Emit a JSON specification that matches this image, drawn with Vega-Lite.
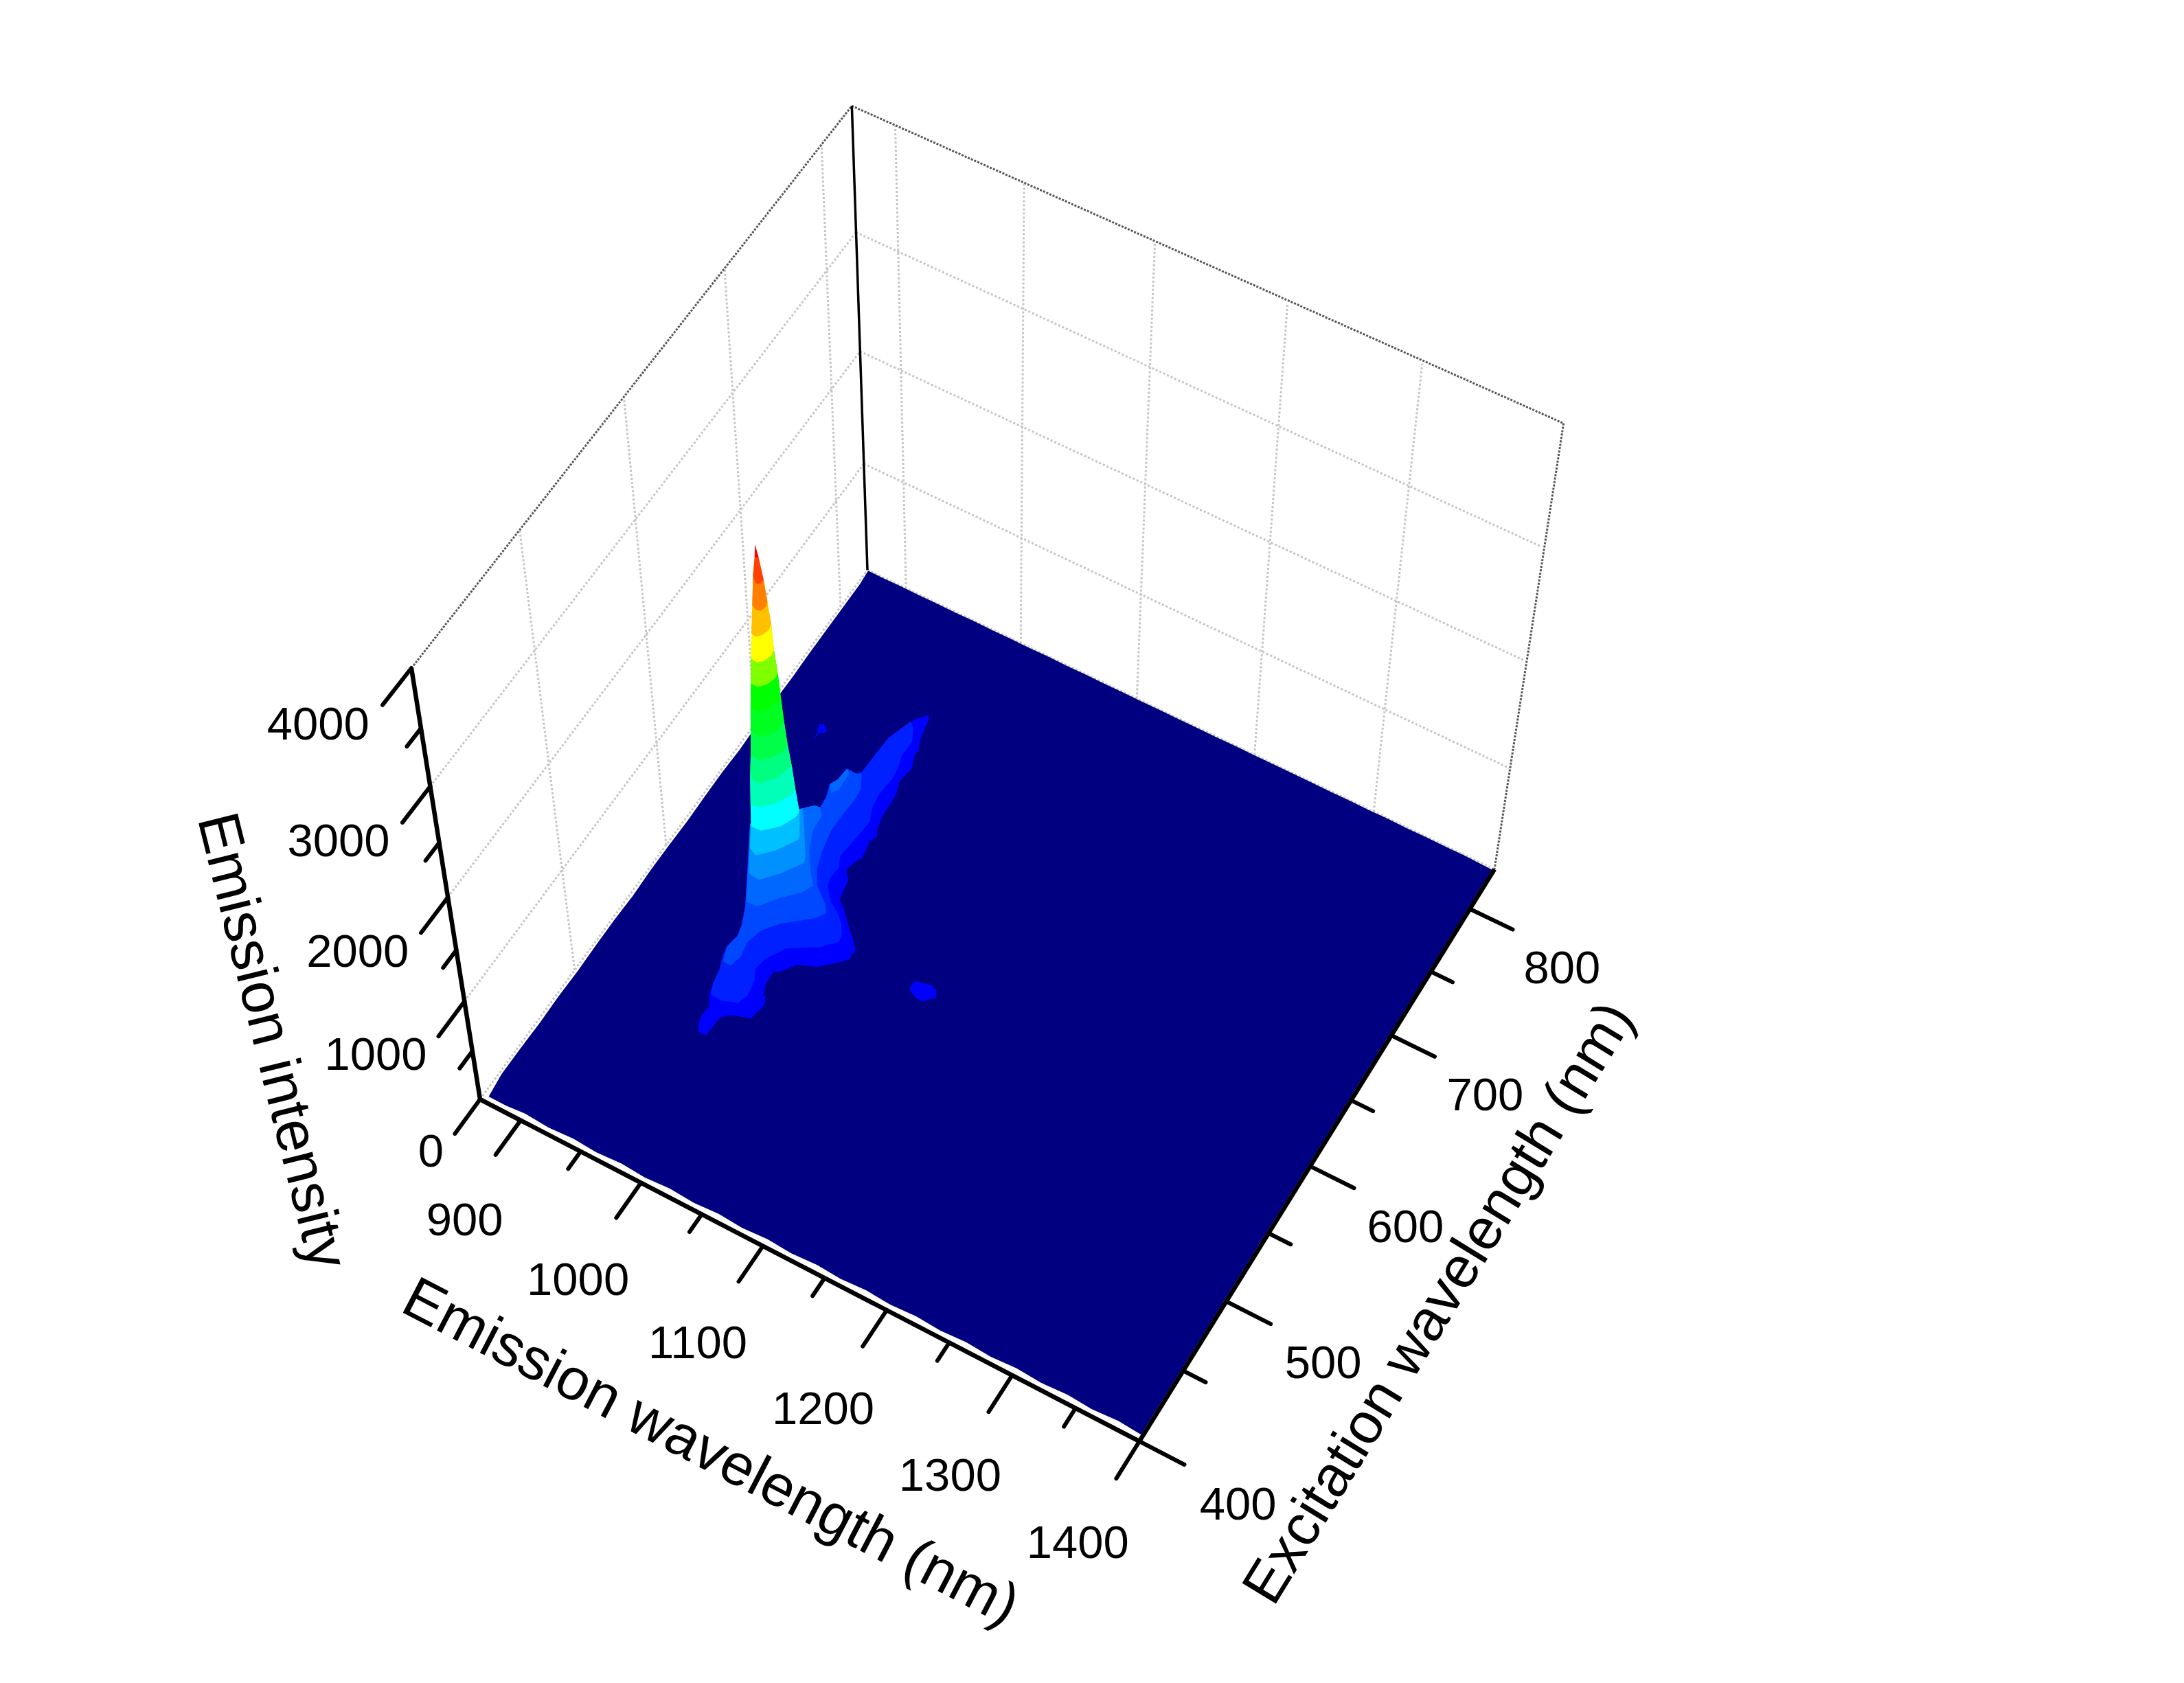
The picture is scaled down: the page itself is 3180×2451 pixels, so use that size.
{"$schema":"https://vega.github.io/schema/vega-lite/v6.json","width":3180,"height":2451,"padding":0,"autosize":{"type":"fit","contains":"padding"},"background":"white","config":{"view":{"stroke":null},"text":{"font":"Liberation Sans"}},
"data":{"values":[
{"set":"grid","em":866,"ex":500,"I":0,"em2":866,"ex2":500,"I2":4000},{"set":"grid","em":866,"ex":600,"I":0,"em2":866,"ex2":600,"I2":4000},{"set":"grid","em":866,"ex":700,"I":0,"em2":866,"ex2":700,"I2":4000},{"set":"grid","em":866,"ex":800,"I":0,"em2":866,"ex2":800,"I2":4000},
{"set":"grid","em":900,"ex":832,"I":0,"em2":900,"ex2":832,"I2":4000},{"set":"grid","em":1000,"ex":832,"I":0,"em2":1000,"ex2":832,"I2":4000},{"set":"grid","em":1100,"ex":832,"I":0,"em2":1100,"ex2":832,"I2":4000},{"set":"grid","em":1200,"ex":832,"I":0,"em2":1200,"ex2":832,"I2":4000},{"set":"grid","em":1300,"ex":832,"I":0,"em2":1300,"ex2":832,"I2":4000},
{"set":"grid","em":866,"ex":400,"I":1000,"em2":866,"ex2":832,"I2":1000},{"set":"grid","em":866,"ex":400,"I":2000,"em2":866,"ex2":832,"I2":2000},{"set":"grid","em":866,"ex":400,"I":3000,"em2":866,"ex2":832,"I2":3000},
{"set":"grid","em":866,"ex":832,"I":1000,"em2":1400,"ex2":832,"I2":1000},{"set":"grid","em":866,"ex":832,"I":2000,"em2":1400,"ex2":832,"I2":2000},{"set":"grid","em":866,"ex":832,"I":3000,"em2":1400,"ex2":832,"I2":3000},
{"set":"grid","em":866,"ex":400,"I":0,"em2":866,"ex2":832,"I2":0},{"set":"grid","em":866,"ex":832,"I":0,"em2":1400,"ex2":832,"I2":0},
{"set":"frame","em":866,"ex":400,"I":4000,"em2":866,"ex2":832,"I2":4000},{"set":"frame","em":866,"ex":832,"I":4000,"em2":1403,"ex2":832,"I2":4030},{"set":"frame","em":1403,"ex":832,"I":4030,"em2":1400,"ex2":832,"I2":0},
{"set":"back","em":866,"ex":832,"I":0,"em2":866,"ex2":832,"I2":4000},
{"set":"axis","em":866,"ex":400,"I":0,"em2":866,"ex2":400,"I2":4000},{"set":"axis","em":866,"ex":400,"I":0,"em2":1400,"ex2":400,"I2":0},{"set":"axis","em":1400,"ex":400,"I":0,"em2":1400,"ex2":832,"I2":0},
{"set":"tick","em":900,"ex":400,"I":0,"em2":900,"ex2":374,"I2":0},{"set":"tick","em":950,"ex":400,"I":0,"em2":950,"ex2":387,"I2":0},{"set":"tick","em":1000,"ex":400,"I":0,"em2":1000,"ex2":374,"I2":0},{"set":"tick","em":1050,"ex":400,"I":0,"em2":1050,"ex2":387,"I2":0},{"set":"tick","em":1100,"ex":400,"I":0,"em2":1100,"ex2":374,"I2":0},{"set":"tick","em":1150,"ex":400,"I":0,"em2":1150,"ex2":387,"I2":0},{"set":"tick","em":1200,"ex":400,"I":0,"em2":1200,"ex2":374,"I2":0},{"set":"tick","em":1250,"ex":400,"I":0,"em2":1250,"ex2":387,"I2":0},{"set":"tick","em":1300,"ex":400,"I":0,"em2":1300,"ex2":374,"I2":0},{"set":"tick","em":1350,"ex":400,"I":0,"em2":1350,"ex2":387,"I2":0},{"set":"tick","em":1400,"ex":400,"I":0,"em2":1400,"ex2":374,"I2":0},
{"set":"tick","em":1400,"ex":400,"I":0,"em2":1435,"ex2":400,"I2":0},{"set":"tick","em":1400,"ex":450,"I":0,"em2":1417.6,"ex2":450,"I2":0},{"set":"tick","em":1400,"ex":500,"I":0,"em2":1435,"ex2":500,"I2":0},{"set":"tick","em":1400,"ex":550,"I":0,"em2":1417.6,"ex2":550,"I2":0},{"set":"tick","em":1400,"ex":600,"I":0,"em2":1435,"ex2":600,"I2":0},{"set":"tick","em":1400,"ex":650,"I":0,"em2":1417.6,"ex2":650,"I2":0},{"set":"tick","em":1400,"ex":700,"I":0,"em2":1435,"ex2":700,"I2":0},{"set":"tick","em":1400,"ex":750,"I":0,"em2":1417.6,"ex2":750,"I2":0},{"set":"tick","em":1400,"ex":800,"I":0,"em2":1435,"ex2":800,"I2":0},
{"set":"tick","em":866,"ex":400,"I":0,"em2":866,"ex2":374,"I2":0},{"set":"tick","em":866,"ex":400,"I":500,"em2":866,"ex2":387,"I2":500},{"set":"tick","em":866,"ex":400,"I":1000,"em2":866,"ex2":374,"I2":1000},{"set":"tick","em":866,"ex":400,"I":1500,"em2":866,"ex2":387,"I2":1500},{"set":"tick","em":866,"ex":400,"I":2000,"em2":866,"ex2":374,"I2":2000},{"set":"tick","em":866,"ex":400,"I":2500,"em2":866,"ex2":387,"I2":2500},{"set":"tick","em":866,"ex":400,"I":3000,"em2":866,"ex2":374,"I2":3000},{"set":"tick","em":866,"ex":400,"I":3500,"em2":866,"ex2":387,"I2":3500},{"set":"tick","em":866,"ex":400,"I":4000,"em2":866,"ex2":374,"I2":4000},
{"set":"tickc","em":909,"ex":331,"I":0,"label":"900"},{"set":"tickc","em":1002.4,"ex":331,"I":0,"label":"1000"},{"set":"tickc","em":1099.8,"ex":331,"I":0,"label":"1100"},{"set":"tickc","em":1200.2,"ex":331,"I":0,"label":"1200"},{"set":"tickc","em":1300.6,"ex":331,"I":0,"label":"1300"},{"set":"tickc","em":1400,"ex":331,"I":0,"label":"1400"},
{"set":"tickc","em":1480,"ex":394.9,"I":0,"label":"400"},{"set":"tickc","em":1480,"ex":494.2,"I":0,"label":"500"},{"set":"tickc","em":1480,"ex":593.5,"I":0,"label":"600"},{"set":"tickc","em":1480,"ex":692.9,"I":0,"label":"700"},{"set":"tickc","em":1480,"ex":792.2,"I":0,"label":"800"},
{"set":"tickr","em":866,"ex":361,"I":0,"label":"0"},{"set":"tickr","em":866,"ex":361,"I":1000,"label":"1000"},{"set":"tickr","em":866,"ex":361,"I":2000,"label":"2000"},{"set":"tickr","em":866,"ex":361,"I":3000,"label":"3000"},{"set":"tickr","em":866,"ex":361,"I":4000,"label":"4000"},
{"set":"titleEm","em":1151.9,"ex":277.4,"I":0,"label":"Emission wavelength (nm)"},{"set":"titleEx","em":1526.8,"ex":559,"I":0,"label":"Excitation wavelength (nm)"},{"set":"titleI","em":866,"ex":252,"I":2692,"label":"Emission intensity"},
{"set":"s","poly":"F","level":0,"n":1,"em":870,"ex":404,"I":0},{"set":"s","poly":"F","level":0,"n":2,"em":868,"ex":420,"I":3},{"set":"s","poly":"F","level":0,"n":3,"em":868,"ex":440,"I":1},{"set":"s","poly":"F","level":0,"n":4,"em":868.5,"ex":460,"I":4},{"set":"s","poly":"F","level":0,"n":5,"em":868,"ex":480,"I":2},{"set":"s","poly":"F","level":0,"n":6,"em":868.5,"ex":500,"I":4},{"set":"s","poly":"F","level":0,"n":7,"em":868,"ex":520,"I":1},{"set":"s","poly":"F","level":0,"n":8,"em":868,"ex":540,"I":3},{"set":"s","poly":"F","level":0,"n":9,"em":868.5,"ex":560,"I":2},{"set":"s","poly":"F","level":0,"n":10,"em":868,"ex":580,"I":4},{"set":"s","poly":"F","level":0,"n":11,"em":868,"ex":600,"I":2},{"set":"s","poly":"F","level":0,"n":12,"em":868.5,"ex":620,"I":3},{"set":"s","poly":"F","level":0,"n":13,"em":868,"ex":640,"I":1},{"set":"s","poly":"F","level":0,"n":14,"em":868,"ex":660,"I":4},{"set":"s","poly":"F","level":0,"n":15,"em":868.5,"ex":680,"I":2},{"set":"s","poly":"F","level":0,"n":16,"em":868,"ex":700,"I":3},{"set":"s","poly":"F","level":0,"n":17,"em":868,"ex":720,"I":1},{"set":"s","poly":"F","level":0,"n":18,"em":868.5,"ex":740,"I":4},{"set":"s","poly":"F","level":0,"n":19,"em":868,"ex":760,"I":2},{"set":"s","poly":"F","level":0,"n":20,"em":868,"ex":780,"I":3},{"set":"s","poly":"F","level":0,"n":21,"em":868,"ex":800,"I":2},{"set":"s","poly":"F","level":0,"n":22,"em":868,"ex":820,"I":3},{"set":"s","poly":"F","level":0,"n":23,"em":867,"ex":831.5,"I":3},
{"set":"s","poly":"F","level":0,"n":24,"em":880,"ex":831.5,"I":1},{"set":"s","poly":"F","level":0,"n":25,"em":896,"ex":831.5,"I":4},{"set":"s","poly":"F","level":0,"n":26,"em":912,"ex":831.5,"I":1},{"set":"s","poly":"F","level":0,"n":27,"em":928,"ex":831.5,"I":3},{"set":"s","poly":"F","level":0,"n":28,"em":944,"ex":831.5,"I":1},{"set":"s","poly":"F","level":0,"n":29,"em":960,"ex":831.5,"I":4},{"set":"s","poly":"F","level":0,"n":30,"em":976,"ex":831.5,"I":2},{"set":"s","poly":"F","level":0,"n":31,"em":992,"ex":831.5,"I":3},{"set":"s","poly":"F","level":0,"n":32,"em":1008,"ex":831.5,"I":1},{"set":"s","poly":"F","level":0,"n":33,"em":1024,"ex":831.5,"I":4},{"set":"s","poly":"F","level":0,"n":34,"em":1040,"ex":831.5,"I":1},{"set":"s","poly":"F","level":0,"n":35,"em":1056,"ex":831.5,"I":3},{"set":"s","poly":"F","level":0,"n":36,"em":1072,"ex":831.5,"I":1},{"set":"s","poly":"F","level":0,"n":37,"em":1088,"ex":831.5,"I":3},{"set":"s","poly":"F","level":0,"n":38,"em":1104,"ex":831.5,"I":2},{"set":"s","poly":"F","level":0,"n":39,"em":1120,"ex":831.5,"I":4},{"set":"s","poly":"F","level":0,"n":40,"em":1136,"ex":831.5,"I":1},{"set":"s","poly":"F","level":0,"n":41,"em":1152,"ex":831.5,"I":3},{"set":"s","poly":"F","level":0,"n":42,"em":1168,"ex":831.5,"I":1},{"set":"s","poly":"F","level":0,"n":43,"em":1184,"ex":831.5,"I":4},{"set":"s","poly":"F","level":0,"n":44,"em":1200,"ex":831.5,"I":1},{"set":"s","poly":"F","level":0,"n":45,"em":1216,"ex":831.5,"I":3},{"set":"s","poly":"F","level":0,"n":46,"em":1232,"ex":831.5,"I":2},{"set":"s","poly":"F","level":0,"n":47,"em":1248,"ex":831.5,"I":3},{"set":"s","poly":"F","level":0,"n":48,"em":1264,"ex":831.5,"I":1},{"set":"s","poly":"F","level":0,"n":49,"em":1280,"ex":831.5,"I":3},{"set":"s","poly":"F","level":0,"n":50,"em":1296,"ex":831.5,"I":1},{"set":"s","poly":"F","level":0,"n":51,"em":1312,"ex":831.5,"I":4},{"set":"s","poly":"F","level":0,"n":52,"em":1328,"ex":831.5,"I":1},{"set":"s","poly":"F","level":0,"n":53,"em":1344,"ex":831.5,"I":3},{"set":"s","poly":"F","level":0,"n":54,"em":1360,"ex":831.5,"I":1},{"set":"s","poly":"F","level":0,"n":55,"em":1376,"ex":831.5,"I":3},{"set":"s","poly":"F","level":0,"n":56,"em":1398.5,"ex":831,"I":1},
{"set":"s","poly":"F","level":0,"n":57,"em":1398.5,"ex":404,"I":0},{"set":"s","poly":"F","level":0,"n":58,"em":1380,"ex":405,"I":0},{"set":"s","poly":"F","level":0,"n":59,"em":1360,"ex":404,"I":0},{"set":"s","poly":"F","level":0,"n":60,"em":1340,"ex":405,"I":0},{"set":"s","poly":"F","level":0,"n":61,"em":1320,"ex":404,"I":0},{"set":"s","poly":"F","level":0,"n":62,"em":1300,"ex":405,"I":0},{"set":"s","poly":"F","level":0,"n":63,"em":1280,"ex":404,"I":0},{"set":"s","poly":"F","level":0,"n":64,"em":1260,"ex":405,"I":0},{"set":"s","poly":"F","level":0,"n":65,"em":1240,"ex":404,"I":0},{"set":"s","poly":"F","level":0,"n":66,"em":1220,"ex":405,"I":0},{"set":"s","poly":"F","level":0,"n":67,"em":1200,"ex":404,"I":0},{"set":"s","poly":"F","level":0,"n":68,"em":1180,"ex":405,"I":0},{"set":"s","poly":"F","level":0,"n":69,"em":1160,"ex":404,"I":0},{"set":"s","poly":"F","level":0,"n":70,"em":1140,"ex":405,"I":0},{"set":"s","poly":"F","level":0,"n":71,"em":1120,"ex":404,"I":0},{"set":"s","poly":"F","level":0,"n":72,"em":1100,"ex":405,"I":0},{"set":"s","poly":"F","level":0,"n":73,"em":1080,"ex":404,"I":0},{"set":"s","poly":"F","level":0,"n":74,"em":1060,"ex":405,"I":0},{"set":"s","poly":"F","level":0,"n":75,"em":1040,"ex":404,"I":0},{"set":"s","poly":"F","level":0,"n":76,"em":1020,"ex":405,"I":0},{"set":"s","poly":"F","level":0,"n":77,"em":1000,"ex":404,"I":0},{"set":"s","poly":"F","level":0,"n":78,"em":980,"ex":405,"I":0},{"set":"s","poly":"F","level":0,"n":79,"em":960,"ex":404,"I":0},{"set":"s","poly":"F","level":0,"n":80,"em":940,"ex":405,"I":0},{"set":"s","poly":"F","level":0,"n":81,"em":920,"ex":404,"I":0},{"set":"s","poly":"F","level":0,"n":82,"em":900,"ex":405,"I":0},{"set":"s","poly":"F","level":0,"n":83,"em":885,"ex":404,"I":0},
{"set":"s","poly":"L1","level":1,"n":1,"em":977.5,"ex":492.3,"I":200},{"set":"s","poly":"L1","level":1,"n":2,"em":974.5,"ex":498.4,"I":200},{"set":"s","poly":"L1","level":1,"n":3,"em":974.6,"ex":508,"I":200},{"set":"s","poly":"L1","level":1,"n":4,"em":970.1,"ex":513.8,"I":200},{"set":"s","poly":"L1","level":1,"n":5,"em":967.2,"ex":522.1,"I":200},{"set":"s","poly":"L1","level":1,"n":6,"em":965.3,"ex":531.4,"I":200},{"set":"s","poly":"L1","level":1,"n":7,"em":961.1,"ex":540.7,"I":200},{"set":"s","poly":"L1","level":1,"n":8,"em":959.4,"ex":547.4,"I":200},{"set":"s","poly":"L1","level":1,"n":9,"em":961.2,"ex":556.4,"I":200},{"set":"s","poly":"L1","level":1,"n":10,"em":959.3,"ex":564.1,"I":200},{"set":"s","poly":"L1","level":1,"n":11,"em":953.2,"ex":575.9,"I":200},{"set":"s","poly":"L1","level":1,"n":12,"em":919.3,"ex":626.1,"I":200},{"set":"s","poly":"L1","level":1,"n":13,"em":944.9,"ex":650.9,"I":200},{"set":"s","poly":"L1","level":1,"n":14,"em":951.8,"ex":656.4,"I":200},{"set":"s","poly":"L1","level":1,"n":15,"em":955.8,"ex":656.6,"I":200},{"set":"s","poly":"L1","level":1,"n":16,"em":954.7,"ex":665.1,"I":200},{"set":"s","poly":"L1","level":1,"n":17,"em":951.3,"ex":673.6,"I":200},{"set":"s","poly":"L1","level":1,"n":18,"em":954.3,"ex":678.9,"I":200},{"set":"s","poly":"L1","level":1,"n":19,"em":955,"ex":688.3,"I":200},{"set":"s","poly":"L1","level":1,"n":20,"em":963.5,"ex":687.7,"I":200},{"set":"s","poly":"L1","level":1,"n":21,"em":966.1,"ex":690.6,"I":200},{"set":"s","poly":"L1","level":1,"n":22,"em":966.7,"ex":705.6,"I":200},{"set":"s","poly":"L1","level":1,"n":23,"em":967.4,"ex":719,"I":200},{"set":"s","poly":"L1","level":1,"n":24,"em":971.5,"ex":729.5,"I":200},{"set":"s","poly":"L1","level":1,"n":25,"em":976.1,"ex":739.1,"I":200},{"set":"s","poly":"L1","level":1,"n":26,"em":982.6,"ex":745.5,"I":200},{"set":"s","poly":"L1","level":1,"n":27,"em":984.9,"ex":743.2,"I":200},{"set":"s","poly":"L1","level":1,"n":28,"em":988.5,"ex":727.8,"I":200},{"set":"s","poly":"L1","level":1,"n":29,"em":992.2,"ex":721,"I":200},{"set":"s","poly":"L1","level":1,"n":30,"em":992.1,"ex":716.4,"I":200},{"set":"s","poly":"L1","level":1,"n":31,"em":996.1,"ex":707,"I":200},{"set":"s","poly":"L1","level":1,"n":32,"em":994.2,"ex":696,"I":200},{"set":"s","poly":"L1","level":1,"n":33,"em":997.9,"ex":687,"I":200},{"set":"s","poly":"L1","level":1,"n":34,"em":998.7,"ex":670.1,"I":200},{"set":"s","poly":"L1","level":1,"n":35,"em":1001.9,"ex":659.3,"I":200},{"set":"s","poly":"L1","level":1,"n":36,"em":1004.5,"ex":656.6,"I":200},{"set":"s","poly":"L1","level":1,"n":37,"em":1002.2,"ex":651.1,"I":200},{"set":"s","poly":"L1","level":1,"n":38,"em":1004.6,"ex":638.5,"I":200},{"set":"s","poly":"L1","level":1,"n":39,"em":1002.1,"ex":635.6,"I":200},{"set":"s","poly":"L1","level":1,"n":40,"em":999.9,"ex":626.9,"I":200},{"set":"s","poly":"L1","level":1,"n":41,"em":1005.7,"ex":621.4,"I":200},{"set":"s","poly":"L1","level":1,"n":42,"em":1009,"ex":607.6,"I":200},{"set":"s","poly":"L1","level":1,"n":43,"em":1017.1,"ex":602.1,"I":200},{"set":"s","poly":"L1","level":1,"n":44,"em":1025.2,"ex":595.1,"I":200},{"set":"s","poly":"L1","level":1,"n":45,"em":1034.1,"ex":588.4,"I":200},{"set":"s","poly":"L1","level":1,"n":46,"em":1040.5,"ex":582.8,"I":200},{"set":"s","poly":"L1","level":1,"n":47,"em":1040.9,"ex":575.4,"I":200},{"set":"s","poly":"L1","level":1,"n":48,"em":1035.2,"ex":570.1,"I":200},{"set":"s","poly":"L1","level":1,"n":49,"em":1024.3,"ex":561.7,"I":200},{"set":"s","poly":"L1","level":1,"n":50,"em":1010.7,"ex":557,"I":200},{"set":"s","poly":"L1","level":1,"n":51,"em":1003.9,"ex":548.4,"I":200},{"set":"s","poly":"L1","level":1,"n":52,"em":999.7,"ex":546.4,"I":200},{"set":"s","poly":"L1","level":1,"n":53,"em":999.7,"ex":537.3,"I":200},{"set":"s","poly":"L1","level":1,"n":54,"em":1003.1,"ex":529.9,"I":200},{"set":"s","poly":"L1","level":1,"n":55,"em":1005.1,"ex":530.3,"I":200},{"set":"s","poly":"L1","level":1,"n":56,"em":1008.3,"ex":523.8,"I":200},{"set":"s","poly":"L1","level":1,"n":57,"em":1005.6,"ex":513,"I":200},{"set":"s","poly":"L1","level":1,"n":58,"em":991.1,"ex":508.8,"I":200},{"set":"s","poly":"L1","level":1,"n":59,"em":986.4,"ex":504.5,"I":200},{"set":"s","poly":"L1","level":1,"n":60,"em":985.5,"ex":490.8,"I":200},{"set":"s","poly":"L1","level":1,"n":61,"em":980.7,"ex":489.6,"I":200},
{"set":"s","poly":"B1","level":1,"n":1,"em":1089.9,"ex":577.1,"I":200},{"set":"s","poly":"B1","level":1,"n":2,"em":1090.7,"ex":582.3,"I":200},{"set":"s","poly":"B1","level":1,"n":3,"em":1096.1,"ex":582.7,"I":200},{"set":"s","poly":"B1","level":1,"n":4,"em":1102.9,"ex":584.2,"I":200},{"set":"s","poly":"B1","level":1,"n":5,"em":1107.7,"ex":582.3,"I":200},{"set":"s","poly":"B1","level":1,"n":6,"em":1110.6,"ex":578.3,"I":200},{"set":"s","poly":"B1","level":1,"n":7,"em":1103.6,"ex":572.3,"I":200},{"set":"s","poly":"B1","level":1,"n":8,"em":1098,"ex":572.3,"I":200},{"set":"s","poly":"B1","level":1,"n":9,"em":1091.4,"ex":575.1,"I":200},
{"set":"s","poly":"B2","level":1,"n":1,"em":920.9,"ex":695.5,"I":200},{"set":"s","poly":"B2","level":1,"n":2,"em":920.1,"ex":701.3,"I":200},{"set":"s","poly":"B2","level":1,"n":3,"em":917.3,"ex":707.4,"I":200},{"set":"s","poly":"B2","level":1,"n":4,"em":920.6,"ex":708.4,"I":200},{"set":"s","poly":"B2","level":1,"n":5,"em":924.9,"ex":705.9,"I":200},{"set":"s","poly":"B2","level":1,"n":6,"em":925.3,"ex":703.8,"I":200},{"set":"s","poly":"B2","level":1,"n":7,"em":921.3,"ex":701.3,"I":200},
{"set":"s","poly":"L2","level":2,"n":1,"em":980.4,"ex":504.4,"I":400},{"set":"s","poly":"L2","level":2,"n":2,"em":989.4,"ex":503.9,"I":400},{"set":"s","poly":"L2","level":2,"n":3,"em":1000.6,"ex":507.7,"I":400},{"set":"s","poly":"L2","level":2,"n":4,"em":1003.2,"ex":514.2,"I":400},{"set":"s","poly":"L2","level":2,"n":5,"em":1001,"ex":524.7,"I":400},{"set":"s","poly":"L2","level":2,"n":6,"em":996.4,"ex":531.4,"I":400},{"set":"s","poly":"L2","level":2,"n":7,"em":997.9,"ex":540,"I":400},{"set":"s","poly":"L2","level":2,"n":8,"em":1006,"ex":551.9,"I":400},{"set":"s","poly":"L2","level":2,"n":9,"em":1026.3,"ex":562.7,"I":400},{"set":"s","poly":"L2","level":2,"n":10,"em":1036,"ex":571.3,"I":400},{"set":"s","poly":"L2","level":2,"n":11,"em":1034.3,"ex":576.8,"I":400},{"set":"s","poly":"L2","level":2,"n":12,"em":1030,"ex":581.9,"I":400},{"set":"s","poly":"L2","level":2,"n":13,"em":1022.9,"ex":587.6,"I":400},{"set":"s","poly":"L2","level":2,"n":14,"em":1013.7,"ex":592.3,"I":400},{"set":"s","poly":"L2","level":2,"n":15,"em":1004.7,"ex":600.7,"I":400},{"set":"s","poly":"L2","level":2,"n":16,"em":1002.8,"ex":607,"I":400},{"set":"s","poly":"L2","level":2,"n":17,"em":1003.7,"ex":614.7,"I":400},{"set":"s","poly":"L2","level":2,"n":18,"em":999.4,"ex":621.8,"I":400},{"set":"s","poly":"L2","level":2,"n":19,"em":1001.3,"ex":637.3,"I":400},{"set":"s","poly":"L2","level":2,"n":20,"em":1002.8,"ex":650.9,"I":400},{"set":"s","poly":"L2","level":2,"n":21,"em":998.2,"ex":659.8,"I":400},{"set":"s","poly":"L2","level":2,"n":22,"em":996.4,"ex":670,"I":400},{"set":"s","poly":"L2","level":2,"n":23,"em":997.8,"ex":683.7,"I":400},{"set":"s","poly":"L2","level":2,"n":24,"em":996.4,"ex":692.3,"I":400},{"set":"s","poly":"L2","level":2,"n":25,"em":993.4,"ex":700.3,"I":400},{"set":"s","poly":"L2","level":2,"n":26,"em":993.8,"ex":711.7,"I":400},{"set":"s","poly":"L2","level":2,"n":27,"em":988.4,"ex":720.5,"I":400},{"set":"s","poly":"L2","level":2,"n":28,"em":983.9,"ex":724,"I":400},{"set":"s","poly":"L2","level":2,"n":29,"em":981.1,"ex":717.1,"I":400},{"set":"s","poly":"L2","level":2,"n":30,"em":977.1,"ex":706.7,"I":400},{"set":"s","poly":"L2","level":2,"n":31,"em":976.4,"ex":693.3,"I":400},{"set":"s","poly":"L2","level":2,"n":32,"em":975.7,"ex":678.5,"I":400},{"set":"s","poly":"L2","level":2,"n":33,"em":972.9,"ex":675.7,"I":400},{"set":"s","poly":"L2","level":2,"n":34,"em":964.9,"ex":676.1,"I":400},{"set":"s","poly":"L2","level":2,"n":35,"em":964,"ex":666.9,"I":400},{"set":"s","poly":"L2","level":2,"n":36,"em":961.1,"ex":661.8,"I":400},{"set":"s","poly":"L2","level":2,"n":37,"em":964.5,"ex":653.2,"I":400},{"set":"s","poly":"L2","level":2,"n":38,"em":965.5,"ex":644.8,"I":400},{"set":"s","poly":"L2","level":2,"n":39,"em":961.3,"ex":644.7,"I":400},{"set":"s","poly":"L2","level":2,"n":40,"em":954.9,"ex":639.1,"I":400},{"set":"s","poly":"L2","level":2,"n":41,"em":929.2,"ex":614.5,"I":400},{"set":"s","poly":"L2","level":2,"n":42,"em":962.9,"ex":564.8,"I":400},{"set":"s","poly":"L2","level":2,"n":43,"em":968.9,"ex":553.2,"I":400},{"set":"s","poly":"L2","level":2,"n":44,"em":971.1,"ex":545.3,"I":400},{"set":"s","poly":"L2","level":2,"n":45,"em":969.2,"ex":536.4,"I":400},{"set":"s","poly":"L2","level":2,"n":46,"em":970.7,"ex":529.8,"I":400},{"set":"s","poly":"L2","level":2,"n":47,"em":974.9,"ex":520.6,"I":400},{"set":"s","poly":"L2","level":2,"n":48,"em":976.8,"ex":511.4,"I":400},
{"set":"s","poly":"L3","level":3,"n":1,"em":983,"ex":515.9,"I":600},{"set":"s","poly":"L3","level":3,"n":2,"em":989.4,"ex":515.4,"I":600},{"set":"s","poly":"L3","level":3,"n":3,"em":991.7,"ex":523.5,"I":600},{"set":"s","poly":"L3","level":3,"n":4,"em":989.4,"ex":533.9,"I":600},{"set":"s","poly":"L3","level":3,"n":5,"em":992.8,"ex":544.4,"I":600},{"set":"s","poly":"L3","level":3,"n":6,"em":1001.7,"ex":553.9,"I":600},{"set":"s","poly":"L3","level":3,"n":7,"em":1020.3,"ex":566.8,"I":600},{"set":"s","poly":"L3","level":3,"n":8,"em":1025.1,"ex":573,"I":600},{"set":"s","poly":"L3","level":3,"n":9,"em":1020.5,"ex":577.9,"I":600},{"set":"s","poly":"L3","level":3,"n":10,"em":1007.7,"ex":586.2,"I":600},{"set":"s","poly":"L3","level":3,"n":11,"em":1000.4,"ex":595.4,"I":600},{"set":"s","poly":"L3","level":3,"n":12,"em":995.6,"ex":607.6,"I":600},{"set":"s","poly":"L3","level":3,"n":13,"em":992.2,"ex":622.3,"I":600},{"set":"s","poly":"L3","level":3,"n":14,"em":992.2,"ex":635.1,"I":600},{"set":"s","poly":"L3","level":3,"n":15,"em":993.2,"ex":646.6,"I":600},{"set":"s","poly":"L3","level":3,"n":16,"em":992.4,"ex":655.4,"I":600},{"set":"s","poly":"L3","level":3,"n":17,"em":986.1,"ex":665.3,"I":600},{"set":"s","poly":"L3","level":3,"n":18,"em":982.5,"ex":663.7,"I":600},{"set":"s","poly":"L3","level":3,"n":19,"em":974.6,"ex":664,"I":600},{"set":"s","poly":"L3","level":3,"n":20,"em":973.7,"ex":654.9,"I":600},{"set":"s","poly":"L3","level":3,"n":21,"em":970.7,"ex":649.8,"I":600},{"set":"s","poly":"L3","level":3,"n":22,"em":974.2,"ex":641.3,"I":600},{"set":"s","poly":"L3","level":3,"n":23,"em":975.1,"ex":633,"I":600},{"set":"s","poly":"L3","level":3,"n":24,"em":971,"ex":632.8,"I":600},{"set":"s","poly":"L3","level":3,"n":25,"em":964.6,"ex":627.3,"I":600},{"set":"s","poly":"L3","level":3,"n":26,"em":939.2,"ex":602.9,"I":600},{"set":"s","poly":"L3","level":3,"n":27,"em":972.6,"ex":553.6,"I":600},{"set":"s","poly":"L3","level":3,"n":28,"em":978.5,"ex":542.1,"I":600},{"set":"s","poly":"L3","level":3,"n":29,"em":980.7,"ex":534.3,"I":600},{"set":"s","poly":"L3","level":3,"n":30,"em":978.9,"ex":525.5,"I":600},
{"set":"s","poly":"L4","level":4,"n":1,"em":981,"ex":545.4,"I":800},{"set":"s","poly":"L4","level":4,"n":2,"em":989.9,"ex":546,"I":800},{"set":"s","poly":"L4","level":4,"n":3,"em":998.9,"ex":556.5,"I":800},{"set":"s","poly":"L4","level":4,"n":4,"em":1010.3,"ex":566.3,"I":800},{"set":"s","poly":"L4","level":4,"n":5,"em":1014.6,"ex":573.6,"I":800},{"set":"s","poly":"L4","level":4,"n":6,"em":1006,"ex":582.1,"I":800},{"set":"s","poly":"L4","level":4,"n":7,"em":997.4,"ex":592.4,"I":800},{"set":"s","poly":"L4","level":4,"n":8,"em":990.5,"ex":605.3,"I":800},{"set":"s","poly":"L4","level":4,"n":9,"em":989.6,"ex":616.7,"I":800},{"set":"s","poly":"L4","level":4,"n":10,"em":984.8,"ex":621.1,"I":800},{"set":"s","poly":"L4","level":4,"n":11,"em":980.7,"ex":621,"I":800},{"set":"s","poly":"L4","level":4,"n":12,"em":974.4,"ex":615.5,"I":800},{"set":"s","poly":"L4","level":4,"n":13,"em":949.2,"ex":591.3,"I":800},
{"set":"s","poly":"P4","level":4,"n":1,"em":980.5,"ex":637.9,"I":800},{"set":"s","poly":"P4","level":4,"n":2,"em":985.2,"ex":632.8,"I":800},{"set":"s","poly":"P4","level":4,"n":3,"em":988.6,"ex":637.1,"I":800},{"set":"s","poly":"P4","level":4,"n":4,"em":987.9,"ex":649.6,"I":800},{"set":"s","poly":"P4","level":4,"n":5,"em":984.2,"ex":651.9,"I":800},{"set":"s","poly":"P4","level":4,"n":6,"em":983.4,"ex":642.9,"I":800},
{"set":"s","poly":"L5","level":5,"n":1,"em":979.8,"ex":551.1,"I":1000},{"set":"s","poly":"L5","level":5,"n":2,"em":988.9,"ex":550.1,"I":1000},{"set":"s","poly":"L5","level":5,"n":3,"em":999.1,"ex":560.2,"I":1000},{"set":"s","poly":"L5","level":5,"n":4,"em":1008.7,"ex":572.7,"I":1000},{"set":"s","poly":"L5","level":5,"n":5,"em":1006.6,"ex":577.1,"I":1000},{"set":"s","poly":"L5","level":5,"n":6,"em":988.1,"ex":599.7,"I":1000},{"set":"s","poly":"L5","level":5,"n":7,"em":984.1,"ex":603.8,"I":1000},{"set":"s","poly":"L5","level":5,"n":8,"em":959.1,"ex":579.8,"I":1000},
{"set":"s","poly":"L6","level":6,"n":1,"em":979.4,"ex":554.4,"I":1200},{"set":"s","poly":"L6","level":6,"n":2,"em":986,"ex":551.8,"I":1200},{"set":"s","poly":"L6","level":6,"n":3,"em":996.1,"ex":560.5,"I":1200},{"set":"s","poly":"L6","level":6,"n":4,"em":1004.8,"ex":572.5,"I":1200},{"set":"s","poly":"L6","level":6,"n":5,"em":1003.6,"ex":575.9,"I":1200},{"set":"s","poly":"L6","level":6,"n":6,"em":1003.1,"ex":577.6,"I":1400},{"set":"s","poly":"L6","level":6,"n":7,"em":1001.3,"ex":577.1,"I":1600},{"set":"s","poly":"L6","level":6,"n":8,"em":981,"ex":556.1,"I":1600},{"set":"s","poly":"L6","level":6,"n":9,"em":980.6,"ex":555.6,"I":1400},
{"set":"s","poly":"L7","level":7,"n":1,"em":980.6,"ex":555.6,"I":1400},{"set":"s","poly":"L7","level":7,"n":2,"em":988.7,"ex":555.9,"I":1400},{"set":"s","poly":"L7","level":7,"n":3,"em":998.3,"ex":563.9,"I":1400},{"set":"s","poly":"L7","level":7,"n":4,"em":1003.3,"ex":573.3,"I":1400},{"set":"s","poly":"L7","level":7,"n":5,"em":1003.1,"ex":577.6,"I":1400},{"set":"s","poly":"L7","level":7,"n":6,"em":1001.3,"ex":577.1,"I":1600},{"set":"s","poly":"L7","level":7,"n":7,"em":999.3,"ex":577.2,"I":1800},{"set":"s","poly":"L7","level":7,"n":8,"em":978.6,"ex":560.4,"I":1800},{"set":"s","poly":"L7","level":7,"n":9,"em":981,"ex":556.1,"I":1600},
{"set":"s","poly":"L8","level":8,"n":1,"em":981,"ex":556.1,"I":1600},{"set":"s","poly":"L8","level":8,"n":2,"em":986.6,"ex":556.5,"I":1600},{"set":"s","poly":"L8","level":8,"n":3,"em":995.7,"ex":563.9,"I":1600},{"set":"s","poly":"L8","level":8,"n":4,"em":1001.3,"ex":573.6,"I":1600},{"set":"s","poly":"L8","level":8,"n":5,"em":1001.3,"ex":577.1,"I":1600},{"set":"s","poly":"L8","level":8,"n":6,"em":999.3,"ex":577.2,"I":1800},{"set":"s","poly":"L8","level":8,"n":7,"em":997.6,"ex":576.3,"I":2000},{"set":"s","poly":"L8","level":8,"n":8,"em":979.8,"ex":561,"I":2000},{"set":"s","poly":"L8","level":8,"n":9,"em":978.6,"ex":560.4,"I":1800},
{"set":"s","poly":"L9","level":9,"n":1,"em":978.6,"ex":560.4,"I":1800},{"set":"s","poly":"L9","level":9,"n":2,"em":985.9,"ex":557.7,"I":1800},{"set":"s","poly":"L9","level":9,"n":3,"em":994.9,"ex":566.4,"I":1800},{"set":"s","poly":"L9","level":9,"n":4,"em":997.7,"ex":574.7,"I":1800},{"set":"s","poly":"L9","level":9,"n":5,"em":999.3,"ex":577.2,"I":1800},{"set":"s","poly":"L9","level":9,"n":6,"em":997.6,"ex":576.3,"I":2000},{"set":"s","poly":"L9","level":9,"n":7,"em":995.3,"ex":576.8,"I":2200},{"set":"s","poly":"L9","level":9,"n":8,"em":979.8,"ex":562.5,"I":2200},{"set":"s","poly":"L9","level":9,"n":9,"em":979.8,"ex":561,"I":2000},
{"set":"s","poly":"L10","level":10,"n":1,"em":979.8,"ex":561,"I":2000},{"set":"s","poly":"L10","level":10,"n":2,"em":987.3,"ex":559.8,"I":2000},{"set":"s","poly":"L10","level":10,"n":3,"em":993.5,"ex":564.8,"I":2000},{"set":"s","poly":"L10","level":10,"n":4,"em":997.8,"ex":571.2,"I":2000},{"set":"s","poly":"L10","level":10,"n":5,"em":997.6,"ex":576.3,"I":2000},{"set":"s","poly":"L10","level":10,"n":6,"em":995.3,"ex":576.8,"I":2200},{"set":"s","poly":"L10","level":10,"n":7,"em":993.5,"ex":577.2,"I":2400},{"set":"s","poly":"L10","level":10,"n":8,"em":980.4,"ex":563.2,"I":2400},{"set":"s","poly":"L10","level":10,"n":9,"em":979.8,"ex":562.5,"I":2200},
{"set":"s","poly":"L11","level":11,"n":1,"em":979.8,"ex":562.5,"I":2200},{"set":"s","poly":"L11","level":11,"n":2,"em":987.4,"ex":561.2,"I":2200},{"set":"s","poly":"L11","level":11,"n":3,"em":992.6,"ex":565,"I":2200},{"set":"s","poly":"L11","level":11,"n":4,"em":995.5,"ex":570.7,"I":2200},{"set":"s","poly":"L11","level":11,"n":5,"em":995.3,"ex":576.8,"I":2200},{"set":"s","poly":"L11","level":11,"n":6,"em":993.5,"ex":577.2,"I":2400},{"set":"s","poly":"L11","level":11,"n":7,"em":992,"ex":577.5,"I":2600},{"set":"s","poly":"L11","level":11,"n":8,"em":981.1,"ex":564.1,"I":2600},{"set":"s","poly":"L11","level":11,"n":9,"em":980.4,"ex":563.2,"I":2400},
{"set":"s","poly":"L12","level":12,"n":1,"em":980.4,"ex":563.2,"I":2400},{"set":"s","poly":"L12","level":12,"n":2,"em":985.9,"ex":562.3,"I":2400},{"set":"s","poly":"L12","level":12,"n":3,"em":990.9,"ex":566.4,"I":2400},{"set":"s","poly":"L12","level":12,"n":4,"em":993.8,"ex":572.1,"I":2400},{"set":"s","poly":"L12","level":12,"n":5,"em":993.5,"ex":577.2,"I":2400},{"set":"s","poly":"L12","level":12,"n":6,"em":992,"ex":577.5,"I":2600},{"set":"s","poly":"L12","level":12,"n":7,"em":990.6,"ex":576.8,"I":2800},{"set":"s","poly":"L12","level":12,"n":8,"em":981.1,"ex":565.8,"I":2800},{"set":"s","poly":"L12","level":12,"n":9,"em":981.1,"ex":564.1,"I":2600},
{"set":"s","poly":"L13","level":13,"n":1,"em":981.1,"ex":564.1,"I":2600},{"set":"s","poly":"L13","level":13,"n":2,"em":986.5,"ex":564.2,"I":2600},{"set":"s","poly":"L13","level":13,"n":3,"em":990.7,"ex":568.2,"I":2600},{"set":"s","poly":"L13","level":13,"n":4,"em":992.8,"ex":573.6,"I":2600},{"set":"s","poly":"L13","level":13,"n":5,"em":992,"ex":577.5,"I":2600},{"set":"s","poly":"L13","level":13,"n":6,"em":990.6,"ex":576.8,"I":2800},{"set":"s","poly":"L13","level":13,"n":7,"em":988.5,"ex":578.2,"I":3000},{"set":"s","poly":"L13","level":13,"n":8,"em":981.4,"ex":567.4,"I":3000},{"set":"s","poly":"L13","level":13,"n":9,"em":981.1,"ex":565.8,"I":2800},
{"set":"s","poly":"L14","level":14,"n":1,"em":981.1,"ex":565.8,"I":2800},{"set":"s","poly":"L14","level":14,"n":2,"em":986.1,"ex":565.2,"I":2800},{"set":"s","poly":"L14","level":14,"n":3,"em":989.3,"ex":567.9,"I":2800},{"set":"s","poly":"L14","level":14,"n":4,"em":991.6,"ex":573,"I":2800},{"set":"s","poly":"L14","level":14,"n":5,"em":990.6,"ex":576.8,"I":2800},{"set":"s","poly":"L14","level":14,"n":6,"em":988.5,"ex":578.2,"I":3000},{"set":"s","poly":"L14","level":14,"n":7,"em":987.7,"ex":576.8,"I":3200},{"set":"s","poly":"L14","level":14,"n":8,"em":980.8,"ex":570.6,"I":3200},{"set":"s","poly":"L14","level":14,"n":9,"em":981.4,"ex":567.4,"I":3000},
{"set":"s","poly":"L15","level":15,"n":1,"em":981.4,"ex":567.4,"I":3000},{"set":"s","poly":"L15","level":15,"n":2,"em":985.2,"ex":566.6,"I":3000},{"set":"s","poly":"L15","level":15,"n":3,"em":988.4,"ex":569.5,"I":3000},{"set":"s","poly":"L15","level":15,"n":4,"em":989.9,"ex":574.5,"I":3000},{"set":"s","poly":"L15","level":15,"n":5,"em":988.5,"ex":578.2,"I":3000},{"set":"s","poly":"L15","level":15,"n":6,"em":987.7,"ex":576.8,"I":3200},{"set":"s","poly":"L15","level":15,"n":7,"em":987.5,"ex":574.8,"I":3400},{"set":"s","poly":"L15","level":15,"n":8,"em":979.6,"ex":574.5,"I":3400},{"set":"s","poly":"L15","level":15,"n":9,"em":980.8,"ex":570.6,"I":3200},
{"set":"s","poly":"L16","level":16,"n":1,"em":980.8,"ex":570.6,"I":3200},{"set":"s","poly":"L16","level":16,"n":2,"em":984.6,"ex":569,"I":3200},{"set":"s","poly":"L16","level":16,"n":3,"em":988.1,"ex":570.1,"I":3200},{"set":"s","poly":"L16","level":16,"n":4,"em":989,"ex":573.6,"I":3200},{"set":"s","poly":"L16","level":16,"n":5,"em":987.7,"ex":576.8,"I":3200},{"set":"s","poly":"L16","level":16,"n":6,"em":987.5,"ex":574.8,"I":3400},{"set":"s","poly":"L16","level":16,"n":7,"em":986.1,"ex":573,"I":3600},{"set":"s","poly":"L16","level":16,"n":8,"em":983.9,"ex":572,"I":3600},{"set":"s","poly":"L16","level":16,"n":9,"em":979.6,"ex":574.5,"I":3400},
{"set":"s","poly":"L17","level":17,"n":1,"em":979.6,"ex":574.5,"I":3400},{"set":"s","poly":"L17","level":17,"n":2,"em":984.4,"ex":570.8,"I":3400},{"set":"s","poly":"L17","level":17,"n":3,"em":987.1,"ex":571.9,"I":3400},{"set":"s","poly":"L17","level":17,"n":4,"em":987.5,"ex":574.8,"I":3400},{"set":"s","poly":"L17","level":17,"n":5,"em":986.1,"ex":573,"I":3600},{"set":"s","poly":"L17","level":17,"n":6,"em":984.2,"ex":572.7,"I":3700},{"set":"s","poly":"L17","level":17,"n":7,"em":983.9,"ex":572,"I":3600},
{"set":"s","poly":"L18","level":18,"n":1,"em":983.9,"ex":572,"I":3600},{"set":"s","poly":"L18","level":18,"n":2,"em":986.1,"ex":573,"I":3600},{"set":"s","poly":"L18","level":18,"n":3,"em":984.2,"ex":572.7,"I":3700}
]},
"transform":[
{"calculate":"(datum.em-866)/534","as":"u"},{"calculate":"(datum.ex-400)/432","as":"v"},{"calculate":"datum.I/4000","as":"w"},
{"calculate":"1-0.03663*datum.u+0.07222*datum.v-0.118*datum.w","as":"d"},
{"calculate":"(699+899.23*datum.u+655.21*datum.v-170.68*datum.w)/datum.d","as":"px"},
{"calculate":"(1601+421.11*datum.u-711.06*datum.v-742.8*datum.w)/datum.d","as":"py"},
{"calculate":"(datum.em2-866)/534","as":"u2"},{"calculate":"(datum.ex2-400)/432","as":"v2"},{"calculate":"datum.I2/4000","as":"w2"},
{"calculate":"1-0.03663*datum.u2+0.07222*datum.v2-0.118*datum.w2","as":"d2"},
{"calculate":"(699+899.23*datum.u2+655.21*datum.v2-170.68*datum.w2)/datum.d2","as":"px2"},
{"calculate":"(1601+421.11*datum.u2-711.06*datum.v2-742.8*datum.w2)/datum.d2","as":"py2"}
],
"encoding":{"x":{"field":"px","type":"quantitative","scale":{"domain":[0,3180],"range":[0,3180]},"axis":null},"y":{"field":"py","type":"quantitative","scale":{"domain":[0,2451],"range":[0,2451]},"axis":null}},
"layer":[
{"transform":[{"filter":"datum.set==='grid'"}],"mark":{"type":"rule","color":"#c4c4c4","strokeWidth":3,"strokeDash":[3,3]},"encoding":{"x2":{"field":"px2"},"y2":{"field":"py2"}}},
{"transform":[{"filter":"datum.set==='frame'"}],"mark":{"type":"rule","color":"#555555","strokeWidth":3,"strokeDash":[3,2]},"encoding":{"x2":{"field":"px2"},"y2":{"field":"py2"}}},
{"transform":[{"filter":"datum.set==='back'"}],"mark":{"type":"rule","color":"black","strokeWidth":3.5},"encoding":{"x2":{"field":"px2"},"y2":{"field":"py2"}}},
{"transform":[{"filter":"datum.set==='s'"}],"mark":{"type":"line","filled":true,"interpolate":"linear"},"encoding":{"detail":{"field":"poly"},"order":{"field":"n","type":"quantitative"},"color":{"field":"level","type":"ordinal","legend":null,"scale":{"domain":[0,1,2,3,4,5,6,7,8,9,10,11,12,13,14,15,16,17,18],"range":["#000080","#0000FF","#0020FF","#0048FF","#0068FF","#0090FF","#00C0FF","#00FFFF","#00FFB8","#00FF80","#00FF48","#00FF20","#00FF00","#80FF00","#FFFF00","#FFC000","#FF8000","#FF4000","#FF0000"]}}}},
{"transform":[{"filter":"datum.set==='axis'"}],"mark":{"type":"rule","color":"black","strokeWidth":6.5},"encoding":{"x2":{"field":"px2"},"y2":{"field":"py2"}}},
{"transform":[{"filter":"datum.set==='tick'"}],"mark":{"type":"rule","color":"black","strokeWidth":6,"strokeCap":"round"},"encoding":{"x2":{"field":"px2"},"y2":{"field":"py2"}}},
{"transform":[{"filter":"datum.set==='tickc'"}],"mark":{"type":"text","fontSize":67,"align":"center","baseline":"middle","color":"black","dy":5},"encoding":{"text":{"field":"label"}}},
{"transform":[{"filter":"datum.set==='tickr'"}],"mark":{"type":"text","fontSize":67,"align":"right","baseline":"middle","color":"black","dx":2,"dy":3},"encoding":{"text":{"field":"label"}}},
{"transform":[{"filter":"datum.set==='titleEm'"}],"mark":{"type":"text","fontSize":85,"align":"center","baseline":"middle","angle":27.5,"color":"black","dy":3},"encoding":{"text":{"field":"label"}}},
{"transform":[{"filter":"datum.set==='titleEx'"}],"mark":{"type":"text","fontSize":84,"align":"center","baseline":"middle","angle":301.5,"color":"black","dy":5},"encoding":{"text":{"field":"label"}}},
{"transform":[{"filter":"datum.set==='titleI'"}],"mark":{"type":"text","fontSize":85,"align":"center","baseline":"middle","angle":76,"color":"black","dx":13,"dy":10},"encoding":{"text":{"field":"label"}}}
]}
